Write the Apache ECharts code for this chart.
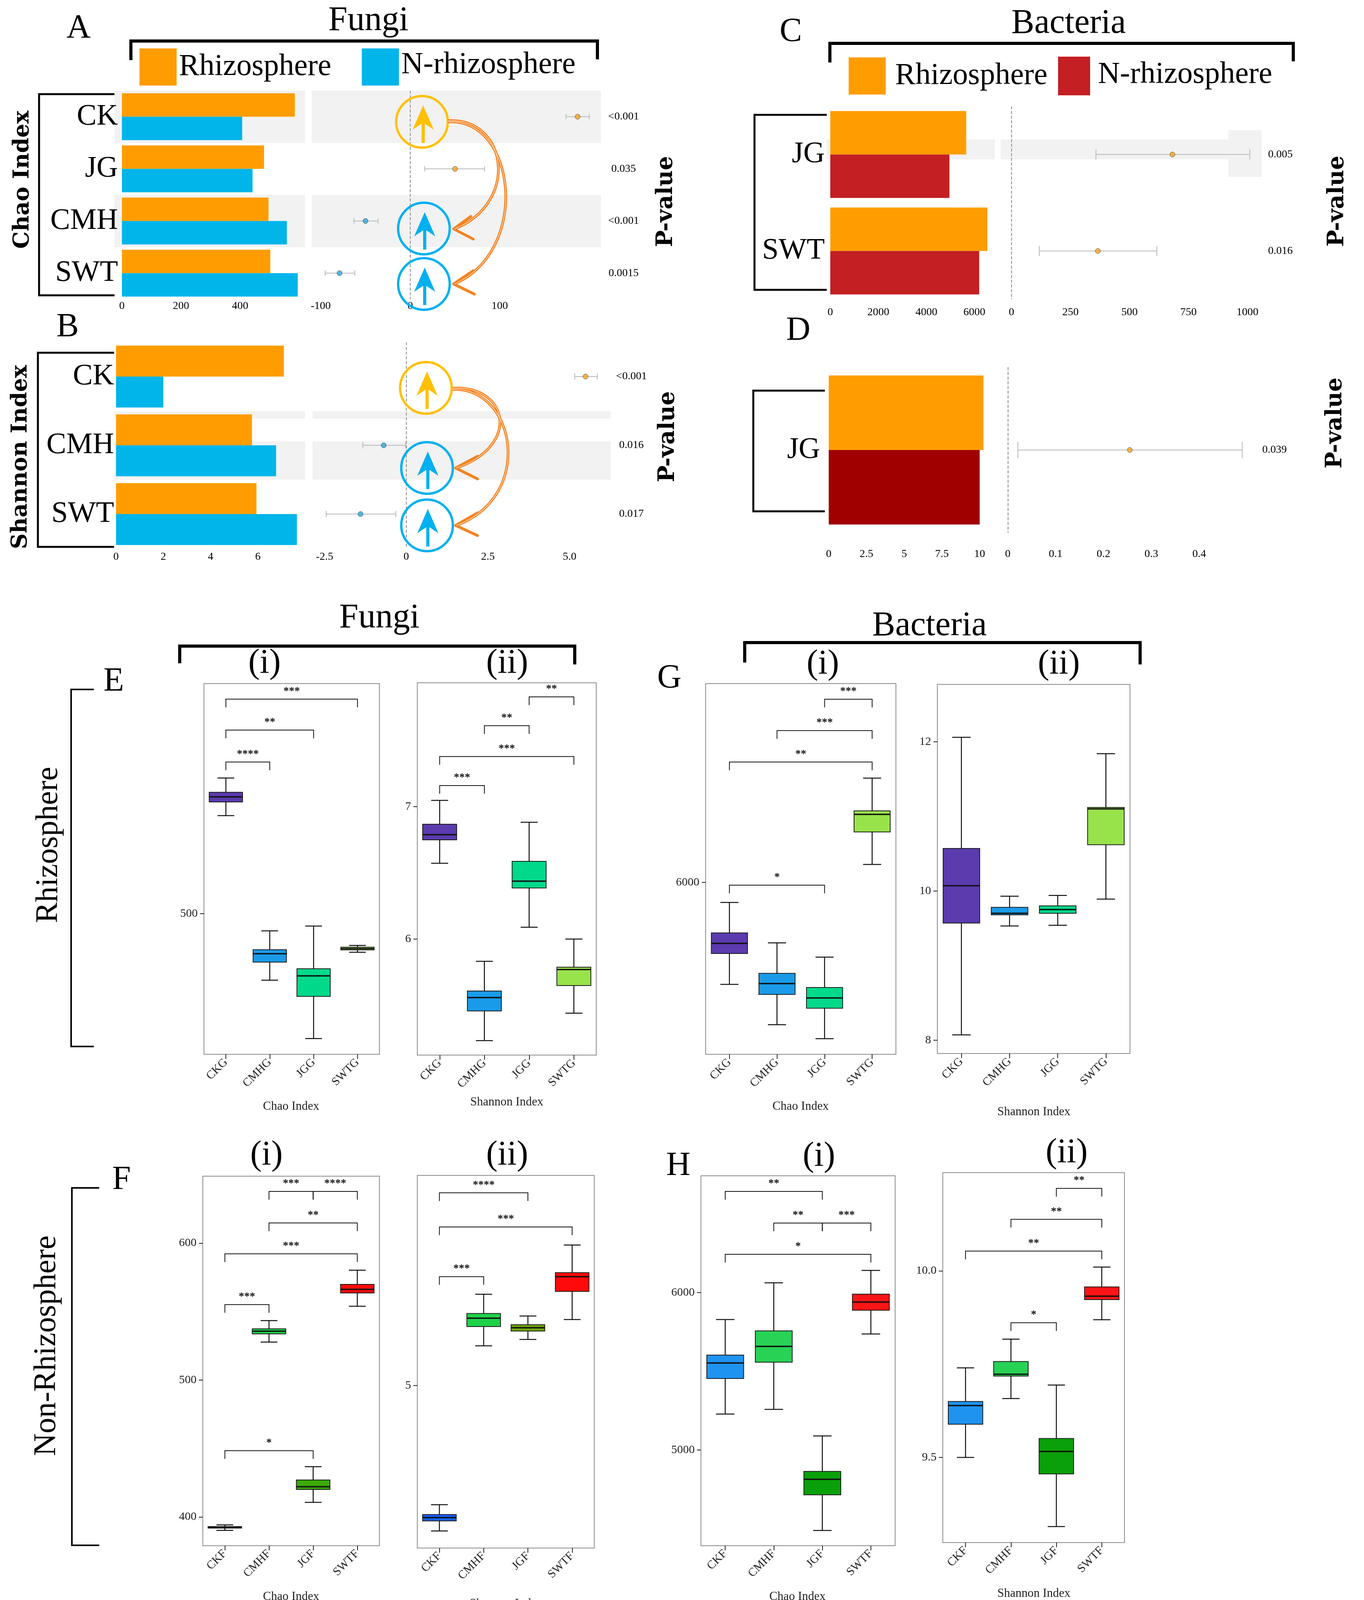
<!DOCTYPE html>
<html><head><meta charset="utf-8">
<script src="https://cdn.jsdelivr.net/npm/echarts@6/dist/echarts.min.js"></script>
<style>html,body{margin:0;padding:0;background:#fff}#c{width:3491px;height:4141px}</style>
</head><body><div id="c"></div>
<script>
// ================= DATA =================
// Panel A : Fungi, Chao index (bars = index value, dots = difference with CI)
const aCats = ['CK', 'JG', 'CMH', 'SWT'];
const aRhizo = [585, 481, 496, 502];
const aNonRhizo = [407, 442, 558, 595];
const aDiff = [187, 50, -50, -79];
const aLow = [174, 16, -63, -95];
const aHigh = [200, 83, -36, -62];
const aP = ['<0.001', '0.035', '<0.001', '0.0015'];
const aBarTicks = [0, 200, 400];
const aDiffTicks = [-100, 0, 100];
// Panel B : Fungi, Shannon index
const bCats = ['CK', 'CMH', 'SWT'];
const bRhizo = [7.1, 5.75, 5.94];
const bNonRhizo = [2.0, 6.77, 7.65];
const bDiff = [5.49, -0.69, -1.40];
const bLow = [5.16, -1.33, -2.45];
const bHigh = [5.85, -0.02, -0.32];
const bP = ['<0.001', '0.016', '0.017'];
const bBarTicks = [0, 2, 4, 6];
const bDiffTicks = [-2.5, 0, 2.5, 5];
const bDiffTickLabels = ['-2.5', '0', '2.5', '5.0'];
// Panel C : Bacteria, Chao index
const cCats = ['JG', 'SWT'];
const cRhizo = [5660, 6540];
const cNonRhizo = [4960, 6200];
const cDiff = [682, 366];
const cLow = [358, 118];
const cHigh = [1010, 616];
const cP = ['0.005', '0.016'];
const cBarTicks = [0, 2000, 4000, 6000];
const cDiffTicks = [0, 250, 500, 750, 1000];
// Panel D : Bacteria, Shannon index
const dCats = ['JG'];
const dRhizo = [10.25];
const dNonRhizo = [10.0];
const dDiff = [0.255];
const dLow = [0.021];
const dHigh = [0.49];
const dP = ['0.039'];
const dBarTicks = [0, 2.5, 5, 7.5, 10];
const dDiffTicks = [0, 0.1, 0.2, 0.3, 0.4];

// Box plots: [min, Q1, median, Q3, max]
const rhizoGroups = ['CKG', 'CMHG', 'JGG', 'SWTG'];
const nonRhizoGroups = ['CKF', 'CMHF', 'JGF', 'SWTF'];
const eChao = [[538.6, 544.0, 546.0, 547.8, 553.4], [473.8, 480.9, 484.2, 485.8, 493.2], [450.8, 467.4, 475.5, 478.3, 495.1], [484.8, 485.7, 486.2, 486.8, 487.5]];
const eShannon = [[6.572, 6.749, 6.788, 6.867, 7.047], [5.233, 5.457, 5.558, 5.608, 5.832], [6.089, 6.386, 6.437, 6.587, 6.882], [5.440, 5.649, 5.770, 5.788, 6.000]];
const gChao = [[5511, 5659, 5708, 5758, 5904], [5318, 5463, 5515, 5564, 5710], [5251, 5397, 5446, 5496, 5642], [6086, 6242, 6326, 6343, 6500]];
const gShannon = [[8.07, 9.57, 10.07, 10.57, 12.06], [9.53, 9.68, 9.70, 9.78, 9.93], [9.54, 9.70, 9.75, 9.80, 9.94], [9.89, 10.62, 11.10, 11.12, 11.84]];
const fChao = [[390.2, 391.9, 392.2, 393.0, 394.2], [527.7, 533.7, 535.7, 537.4, 543.4], [410.7, 420.1, 422.1, 427.0, 436.7], [553.9, 563.6, 566.2, 569.9, 580.2]];
const fShannon = [[4.380, 4.423, 4.437, 4.450, 4.492], [5.170, 5.252, 5.288, 5.308, 5.390], [5.197, 5.233, 5.247, 5.260, 5.297], [5.282, 5.402, 5.465, 5.482, 5.600]];
const hChao = [[5228, 5454, 5553, 5603, 5829], [5258, 5558, 5658, 5757, 6062], [4489, 4715, 4814, 4864, 5089], [5737, 5888, 5940, 5990, 6141]];
const hShannon = [[9.500, 9.589, 9.639, 9.650, 9.740], [9.658, 9.718, 9.723, 9.757, 9.817], [9.315, 9.456, 9.516, 9.551, 9.694], [9.869, 9.923, 9.932, 9.957, 10.010]];
// significance brackets: [group a, group b, height, label]
const eChaoSig = [[0, 3, 584.5, '***'], [0, 2, 572.3, '**'], [0, 1, 559.7, '****']];
const eShannonSig = [[2, 3, 7.829, '**'], [1, 2, 7.611, '**'], [0, 3, 7.378, '***'], [0, 1, 7.159, '***']];
const gChaoSig = [[2, 3, 6878, '***'], [1, 3, 6728, '***'], [0, 3, 6577, '**'], [0, 2, 5987, '*']];
const gShannonSig = [];
const fChaoSig = [[1, 2, 637.8, '***'], [2, 3, 637.8, '****'], [1, 3, 614.7, '**'], [0, 3, 592.2, '***'], [0, 1, 555.1, '***'], [0, 2, 448.4, '*']];
const fShannonSig = [[0, 2, 5.823, '****'], [0, 3, 5.677, '***'], [0, 1, 5.465, '***']];
const hChaoSig = [[0, 2, 6643, '**'], [1, 2, 6442, '**'], [2, 3, 6442, '***'], [0, 3, 6243, '*']];
const hShannonSig = [[2, 3, 10.221, '**'], [1, 3, 10.138, '**'], [0, 3, 10.053, '**'], [1, 2, 9.861, '*']];
// y tick values of the box plots
const eChaoTicks = [500];
const eShannonTicks = [6, 7];
const gChaoTicks = [6000];
const gShannonTicks = [8, 10, 12];
const fChaoTicks = [400, 500, 600];
const fShannonTicks = [5];
const hChaoTicks = [5000, 6000];
const hShannonTicks = [9.5, 10];
const hShannonTickLabels = ['9.5', '10.0'];

// ================= STYLE =================
const SERIF = '"Liberation Serif","Times New Roman",serif';
const BSERIF = '"DejaVu Serif",serif';
const ORANGE = '#FF9D00', BLUE = '#00B5EA', RED = '#C41F22', DARKRED = '#A00000';
const DOT_OR = '#F7A21B', DOT_BL = '#2AA9E0';
const ARROW_OR = '#F58220', YEL = '#FFC000', CBLUE = '#00B0F0';

const grids = [], xAxes = [], yAxes = [], series = [], graphics = [];

function addGrid(g) {
  grids.push(Object.assign({ containLabel: false, outerBoundsMode: 'none', show: false }, g));
  return grids.length - 1;
}
function tickFmt(ticks, labels) {
  return function (v) {
    const i = ticks.findIndex(t => Math.abs(t - v) < 1e-7);
    return i >= 0 ? (labels ? labels[i] : String(ticks[i])) : '';
  };
}

function barPanel(cfg) {
  const gi = addGrid(cfg.grid);
  const xi = xAxes.length, yi = yAxes.length;
  xAxes.push({
    type: 'value', gridIndex: gi, min: cfg.min, max: cfg.max,
    axisLine: { show: false }, axisTick: { show: false }, splitLine: { show: false },
    axisLabel: { customValues: cfg.ticks, formatter: tickFmt(cfg.ticks, cfg.tickLabels), fontFamily: SERIF, fontSize: 28, color: '#000', margin: cfg.labelMargin }
  });
  yAxes.push({
    type: 'category', gridIndex: gi, data: cfg.cats, inverse: true,
    axisLine: { show: false }, axisTick: { show: false }, splitLine: { show: false },
    axisLabel: { fontFamily: SERIF, fontSize: 76, color: '#000', margin: cfg.catMargin, interval: 0 }
  });
  series.push({ type: 'bar', name: 'Rhizosphere', xAxisIndex: xi, yAxisIndex: yi, data: cfg.rhizo, barGap: '0%', barCategoryGap: '10%', itemStyle: { color: ORANGE }, silent: true });
  series.push({ type: 'bar', name: 'N-rhizosphere', xAxisIndex: xi, yAxisIndex: yi, data: cfg.non, barGap: '0%', barCategoryGap: '10%', itemStyle: { color: cfg.nonColor }, silent: true });
}

function forestPanel(cfg) {
  const gi = addGrid(cfg.grid);
  const xi = xAxes.length, yi = yAxes.length;
  xAxes.push({
    type: 'value', gridIndex: gi, min: cfg.min, max: cfg.max,
    axisLine: { show: false }, axisTick: { show: false }, splitLine: { show: false },
    axisLabel: { customValues: cfg.ticks, formatter: tickFmt(cfg.ticks, cfg.tickLabels), fontFamily: SERIF, fontSize: 28, color: '#000', margin: cfg.labelMargin }
  });
  yAxes.push({ type: 'category', gridIndex: gi, data: cfg.cats, inverse: true, show: false });
  yAxes.push({
    type: 'category', gridIndex: gi, data: cfg.p, inverse: true, position: 'right',
    axisLine: { show: false }, axisTick: { show: false }, splitLine: { show: false },
    axisLabel: { fontFamily: SERIF, fontSize: 28, color: '#000', margin: cfg.pMargin, align: 'center', interval: 0 }
  });
  const cap = cfg.cap;
  series.push({
    type: 'custom', xAxisIndex: xi, yAxisIndex: yi, silent: true, z: 3,
    data: cfg.cats.map((c, i) => [i, cfg.low[i], cfg.high[i]]),
    encode: { x: [1, 2], y: 0 },
    renderItem: function (params, api) {
      const y = api.value(0);
      const p1 = api.coord([api.value(1), y]);
      const p2 = api.coord([api.value(2), y]);
      const st = { stroke: '#B8B8B8', lineWidth: 2 };
      return {
        type: 'group', children: [
          { type: 'line', shape: { x1: p1[0], y1: p1[1], x2: p2[0], y2: p2[1] }, style: st },
          { type: 'line', shape: { x1: p1[0], y1: p1[1] - cap / 2, x2: p1[0], y2: p1[1] + cap / 2 }, style: st },
          { type: 'line', shape: { x1: p2[0], y1: p2[1] - cap / 2, x2: p2[0], y2: p2[1] + cap / 2 }, style: st }
        ]
      };
    }
  });
  series.push({
    type: 'scatter', xAxisIndex: xi, yAxisIndex: yi, silent: true, z: 4, symbolSize: 13,
    data: cfg.diff.map((d, i) => ({ value: [d, i], itemStyle: { color: d >= 0 ? DOT_OR : DOT_BL } })),
    itemStyle: { borderColor: '#333', borderWidth: 1 },
    markLine: { silent: true, symbol: 'none', label: { show: false }, lineStyle: { type: 'dashed', color: '#8a8a8a', width: 2 }, data: [{ xAxis: 0 }] }
  });
}

function boxPanel(cfg) {
  const gi = addGrid(Object.assign({ show: true, borderColor: '#8c8c8c', borderWidth: 2, backgroundColor: 'rgba(0,0,0,0)' }, cfg.grid));
  const xi = xAxes.length, yi = yAxes.length;
  xAxes.push({
    type: 'category', gridIndex: gi, data: cfg.groups,
    axisLine: { show: false }, splitLine: { show: false },
    axisTick: { show: true, alignWithLabel: true, length: 12, lineStyle: { color: '#222', width: 2 } },
    axisLabel: { rotate: 45, fontFamily: SERIF, fontSize: 30, color: '#222', margin: 16, interval: 0 }
  });
  yAxes.push({
    type: 'value', gridIndex: gi, min: cfg.range[0], max: cfg.range[1],
    axisLine: { show: false }, splitLine: { show: false },
    axisTick: { show: true, customValues: cfg.ticks, length: 10, lineStyle: { color: '#222', width: 2 } },
    axisLabel: { customValues: cfg.ticks, formatter: tickFmt(cfg.ticks, cfg.tickLabels), fontFamily: SERIF, fontSize: 30, color: '#222', margin: 16 }
  });
  const colors = cfg.colors;
  series.push({
    type: 'custom', xAxisIndex: xi, yAxisIndex: yi, silent: true, z: 3,
    data: cfg.boxes.map((b, i) => [i].concat(b)),
    encode: { x: 0, y: [1, 2, 3, 4, 5] },
    renderItem: function (params, api) {
      const i = api.value(0);
      const w = api.size([1, 0])[0] * 0.76;
      const pMin = api.coord([i, api.value(1)]);
      const pQ1 = api.coord([i, api.value(2)]);
      const pMed = api.coord([i, api.value(3)]);
      const pQ3 = api.coord([i, api.value(4)]);
      const pMax = api.coord([i, api.value(5)]);
      const x = pMin[0], hw = w / 2, cw = w / 4;
      const ln = (x1, y1, x2, y2, lw) => ({ type: 'line', shape: { x1, y1, x2, y2 }, style: { stroke: '#111', lineWidth: lw || 2.5 } });
      return {
        type: 'group', children: [
          ln(x, pMax[1], x, pQ3[1]), ln(x, pQ1[1], x, pMin[1]),
          ln(x - cw, pMax[1], x + cw, pMax[1]), ln(x - cw, pMin[1], x + cw, pMin[1]),
          { type: 'rect', shape: { x: x - hw, y: pQ3[1], width: w, height: Math.max(pQ1[1] - pQ3[1], 2) }, style: { fill: colors[params.dataIndex], stroke: '#1a1a1a', lineWidth: 2 } },
          ln(x - hw, pMed[1], x + hw, pMed[1], 3.5)
        ]
      };
    }
  });
  const sig = cfg.sig;
  if (sig.length) {
    series.push({
      type: 'custom', xAxisIndex: xi, yAxisIndex: yi, silent: true, z: 4,
      data: sig.map(s => [s[0], s[1], s[2]]),
      encode: { x: [0, 1], y: 2 },
      renderItem: function (params, api) {
        const s = sig[params.dataIndex];
        const p1 = api.coord([api.value(0), api.value(2)]);
        const p2 = api.coord([api.value(1), api.value(2)]);
        const leg = 21;
        return {
          type: 'group', children: [
            { type: 'polyline', shape: { points: [[p1[0], p1[1] + leg], [p1[0], p1[1]], [p2[0], p2[1]], [p2[0], p2[1] + leg]] }, style: { stroke: '#111', lineWidth: 2, fill: null } },
            { type: 'text', x: (p1[0] + p2[0]) / 2, y: p1[1] - 20, style: { text: s[3], fontSize: 28, fontWeight: 'bold', fontFamily: SERIF, fill: '#111', align: 'center', verticalAlign: 'middle' } }
          ]
        };
      }
    });
  }
}

// ================= PANELS =================
barPanel({ grid: { left: 312, top: 232, width: 469, height: 534 }, min: 0, max: 620, ticks: aBarTicks, labelMargin: 4, catMargin: 10, cats: aCats, rhizo: aRhizo, non: aNonRhizo, nonColor: BLUE });
forestPanel({ grid: { left: 798, top: 232, width: 740, height: 534 }, min: -110, max: 213, ticks: aDiffTicks, labelMargin: 4, cats: aCats, p: aP, pMargin: 58, cap: 14, diff: aDiff, low: aLow, high: aHigh });
barPanel({ grid: { left: 297, top: 876, width: 484, height: 528 }, min: 0, max: 8, ticks: bBarTicks, labelMargin: 8, catMargin: 5, cats: bCats, rhizo: bRhizo, non: bNonRhizo, nonColor: BLUE });
forestPanel({ grid: { left: 799, top: 876, width: 764, height: 528 }, min: -2.88, max: 6.26, ticks: bDiffTicks, tickLabels: bDiffTickLabels, labelMargin: 8, cats: bCats, p: bP, pMargin: 53, cap: 16, diff: bDiff, low: bLow, high: bHigh });
barPanel({ grid: { left: 2125, top: 272, width: 418, height: 494 }, min: 0, max: 6800, ticks: cBarTicks, labelMargin: 20, catMargin: 14, cats: cCats, rhizo: cRhizo, non: cNonRhizo, nonColor: RED });
forestPanel({ grid: { left: 2561, top: 272, width: 668, height: 494 }, min: -46, max: 1060, ticks: cDiffTicks, labelMargin: 20, cats: cCats, p: cP, pMargin: 48, cap: 26, diff: cDiff, low: cLow, high: cHigh });
barPanel({ grid: { left: 2121, top: 940, width: 425, height: 424 }, min: 0, max: 11, ticks: dBarTicks, labelMargin: 41, catMargin: 22, cats: dCats, rhizo: dRhizo, non: dNonRhizo, nonColor: DARKRED });
forestPanel({ grid: { left: 2561, top: 940, width: 660, height: 424 }, min: -0.015, max: 0.524, ticks: dDiffTicks, labelMargin: 41, cats: dCats, p: dP, pMargin: 41, cap: 42, diff: dDiff, low: dLow, high: dHigh });

const colRhizo = ['#5B3BAE', '#1A9BEA', '#00D98A', '#99E34A'];
const colFChao = ['#23309A', '#1ED24A', '#3BAA0A', '#FF0A0A'];
const colFShan = ['#1560FF', '#1ED24A', '#6EA80A', '#FF0A0A'];
const colH = ['#1E93F0', '#28D255', '#0AA00A', '#FF1515'];
boxPanel({ grid: { left: 522, top: 1750, width: 449, height: 949 }, range: [444.6, 590.6], ticks: eChaoTicks, groups: rhizoGroups, boxes: eChao, sig: eChaoSig, colors: colRhizo });
boxPanel({ grid: { left: 1068, top: 1748, width: 458, height: 953 }, range: [5.124, 7.935], ticks: eShannonTicks, groups: rhizoGroups, boxes: eShannon, sig: eShannonSig, colors: colRhizo });
boxPanel({ grid: { left: 1806, top: 1750, width: 487, height: 949 }, range: [5176, 6953], ticks: gChaoTicks, groups: rhizoGroups, boxes: gChao, sig: gChaoSig, colors: colRhizo });
boxPanel({ grid: { left: 2399, top: 1752, width: 493, height: 945 }, range: [7.82, 12.77], ticks: gShannonTicks, groups: rhizoGroups, boxes: gShannon, sig: gShannonSig, colors: colRhizo });
boxPanel({ grid: { left: 519, top: 3011, width: 452, height: 946 }, range: [379.0, 648.9], ticks: fChaoTicks, groups: nonRhizoGroups, boxes: fChao, sig: fChaoSig, colors: colFChao });
boxPanel({ grid: { left: 1068, top: 3009, width: 453, height: 954 }, range: [4.307, 5.897], ticks: fShannonTicks, groups: nonRhizoGroups, boxes: fShannon, sig: fShannonSig, colors: colFShan });
boxPanel({ grid: { left: 1794, top: 3010, width: 497, height: 947 }, range: [4392, 6742], ticks: hChaoTicks, groups: nonRhizoGroups, boxes: hChao, sig: hChaoSig, colors: colH });
boxPanel({ grid: { left: 2413, top: 3002, width: 465, height: 947 }, range: [9.272, 10.263], ticks: hShannonTicks, tickLabels: hShannonTickLabels, groups: nonRhizoGroups, boxes: hShannon, sig: hShannonSig, colors: colH });

// ================= DECORATIONS =================
function txt(text, x, y, size, o) {
  o = o || {};
  return { type: 'text', x: x, y: y, z: 20, rotation: o.rot || 0, silent: true,
    style: { text: text, fontSize: size, fontFamily: o.family || SERIF, fontWeight: o.weight || 'normal', fill: o.color || '#000', align: o.align || 'center', verticalAlign: 'middle' } };
}
function rect(x, y, w, h, color, z) { return { type: 'rect', z: z == null ? 0 : z, silent: true, shape: { x: x, y: y, width: w, height: h }, style: { fill: color } }; }
function pline(points, w) { return { type: 'polyline', z: 20, silent: true, shape: { points: points }, style: { stroke: '#000', lineWidth: w, fill: null } }; }
function ring(cx, cy, color) { return { type: 'circle', z: 15, silent: true, shape: { cx: cx, cy: cy, r: 66 }, style: { stroke: color, lineWidth: 6, fill: null } }; }
function upArrow(cx, cy, color) {
  return [
    { type: 'line', z: 15, silent: true, shape: { x1: cx, y1: cy + 54, x2: cx, y2: cy - 8 }, style: { stroke: color, lineWidth: 8 } },
    { type: 'polygon', z: 15, silent: true, shape: { points: [[cx, cy - 42], [cx + 27, cy + 20], [cx, cy + 2], [cx - 27, cy + 20]] }, style: { fill: color } }
  ];
}
function curve(x1, y1, c1x, c1y, c2x, c2y, x2, y2) {
  const shape = { x1: x1, y1: y1, cpx1: c1x, cpy1: c1y, cpx2: c2x, cpy2: c2y, x2: x2, y2: y2 };
  return [
    { type: 'bezierCurve', z: 16, silent: true, shape: shape, style: { stroke: ARROW_OR, lineWidth: 7, fill: null } },
    { type: 'bezierCurve', z: 17, silent: true, shape: Object.assign({}, shape), style: { stroke: '#FFE3CC', lineWidth: 1.5, fill: null } }
  ];
}
function head(points) { return { type: 'polyline', z: 16, silent: true, shape: { points: points }, style: { stroke: ARROW_OR, lineWidth: 7, fill: null, lineCap: 'round', lineJoin: 'round' } }; }

// gray row bands
graphics.push(rect(293, 232, 488, 134, '#F2F2F2'), rect(798, 232, 740, 134, '#F2F2F2'));
graphics.push(rect(293, 499, 488, 134, '#F2F2F2'), rect(798, 499, 740, 134, '#F2F2F2'));
graphics.push(rect(293, 1053, 488, 19, '#F2F2F2'), rect(800, 1053, 763, 19, '#F2F2F2'));
graphics.push(rect(293, 1130, 488, 98, '#F2F2F2'), rect(800, 1130, 763, 98, '#F2F2F2'));
graphics.push(rect(2116, 357, 430, 51, '#F2F2F2'), rect(2561, 357, 583, 51, '#F2F2F2'), rect(3144, 333, 85, 120, '#F2F2F2'));

// panel letters
[['A', 201, 73], ['B', 173, 838], ['C', 2024, 82], ['D', 2043, 847], ['E', 291, 1745], ['G', 1713, 1737], ['F', 311, 3021], ['H', 1736, 2985]]
  .forEach(l => graphics.push(txt(l[0], l[1], l[2], 86)));
// titles
[['Fungi', 943, 54], ['Bacteria', 2735, 61], ['Fungi', 971, 1583], ['Bacteria', 2379, 1603]]
  .forEach(l => graphics.push(txt(l[0], l[1], l[2], 88)));
[['(i)', 677, 1699], ['(ii)', 1298, 1699], ['(i)', 2106, 1701], ['(ii)', 2710, 1701], ['(i)', 682, 2958], ['(ii)', 1298, 2958], ['(i)', 2096, 2961], ['(ii)', 2730, 2952]]
  .forEach(l => graphics.push(txt(l[0], l[1], l[2], 88)));
// legends
graphics.push(rect(357, 124, 95, 95, ORANGE, 20), txt('Rhizosphere', 458, 172, 78, { align: 'left' }));
graphics.push(rect(926, 124, 95, 95, BLUE, 20), txt('N-rhizosphere', 1027, 167, 78, { align: 'left' }));
graphics.push(rect(2172, 147, 95, 95, ORANGE, 20), txt('Rhizosphere', 2291, 195, 78, { align: 'left' }));
graphics.push(rect(2708, 145, 82, 99, RED, 20), txt('N-rhizosphere', 2810, 192, 78, { align: 'left' }));
// brackets
graphics.push(pline([[335, 154], [335, 105], [1529, 105], [1529, 152]], 8));
graphics.push(pline([[2124, 160], [2124, 111], [3310, 111], [3310, 157]], 8));
graphics.push(pline([[460, 1698], [460, 1654], [1471, 1654], [1471, 1701]], 8));
graphics.push(pline([[1906, 1696], [1906, 1645], [2918, 1645], [2918, 1701]], 8));
graphics.push(pline([[293, 241], [100, 241], [100, 756], [293, 756]], 5));
graphics.push(pline([[292, 903], [97, 903], [97, 1400], [292, 1400]], 5));
graphics.push(pline([[2116, 294], [1931, 294], [1931, 742], [2116, 742]], 5));
graphics.push(pline([[2111, 1000], [1928, 1000], [1928, 1309], [2111, 1309]], 5));
graphics.push(pline([[240, 1765], [182, 1765], [182, 2679], [240, 2679]], 4));
graphics.push(pline([[254, 3041], [184, 3041], [184, 3956], [254, 3956]], 4));
// rotated labels
const R90 = Math.PI / 2;
graphics.push(txt('Chao Index', 58, 460, 56, { rot: R90, family: BSERIF, weight: 'bold' }));
graphics.push(txt('Shannon Index', 53, 1170, 56, { rot: R90, family: BSERIF, weight: 'bold' }));
[[1705, 516], [1710, 1118], [3423, 515], [3418, 1083]].forEach(p => graphics.push(txt('P-value', p[0], p[1], 57, { rot: R90, family: BSERIF, weight: 'bold' })));
graphics.push(txt('Rhizosphere', 125, 2163, 80, { rot: R90 }));
graphics.push(txt('Non-Rhizosphere', 120, 3445, 80, { rot: R90 }));
// box plot axis titles
[['Chao Index', 745, 2833], ['Shannon Index', 1297, 2822], ['Chao Index', 2049, 2833], ['Shannon Index', 2646, 2847],
 ['Chao Index', 745, 4088], ['Shannon Index', 1295, 4106], ['Chao Index', 2041, 4088], ['Shannon Index', 2646, 4080]]
  .forEach(l => graphics.push(txt(l[0], l[1], l[2], 31, { color: '#222' })));
// circled arrows, panel A
graphics.push(ring(1080, 312, YEL)); graphics.push(...upArrow(1083, 312, YEL));
graphics.push(ring(1085, 585, CBLUE)); graphics.push(...upArrow(1087, 585, CBLUE));
graphics.push(ring(1085, 727, CBLUE)); graphics.push(...upArrow(1087, 727, CBLUE));
graphics.push(...curve(1146, 309, 1300, 300, 1330, 520, 1163, 586));
graphics.push(...curve(1146, 312, 1320, 300, 1360, 640, 1163, 727));
graphics.push(head([[1205, 554], [1161, 586], [1211, 612]]));
graphics.push(head([[1211, 693], [1161, 727], [1214, 753]]));
// circled arrows, panel B
graphics.push(ring(1090, 993, YEL)); graphics.push(...upArrow(1093, 993, YEL));
graphics.push(ring(1093, 1198, CBLUE)); graphics.push(...upArrow(1095, 1198, CBLUE));
graphics.push(ring(1093, 1345, CBLUE)); graphics.push(...upArrow(1095, 1345, CBLUE));
graphics.push(...curve(1158, 994, 1300, 985, 1335, 1140, 1168, 1198));
graphics.push(...curve(1158, 997, 1320, 990, 1370, 1270, 1168, 1345));
graphics.push(head([[1222, 1168], [1166, 1198], [1222, 1226]]));
graphics.push(head([[1222, 1313], [1166, 1345], [1222, 1371]]));

const chart = echarts.init(document.getElementById('c'), null, { renderer: 'canvas', width: 3491, height: 4141 });
chart.setOption({
  backgroundColor: '#ffffff',
  animation: false,
  grid: grids,
  xAxis: xAxes,
  yAxis: yAxes,
  series: series,
  graphic: { elements: graphics }
});
</script></body></html>
